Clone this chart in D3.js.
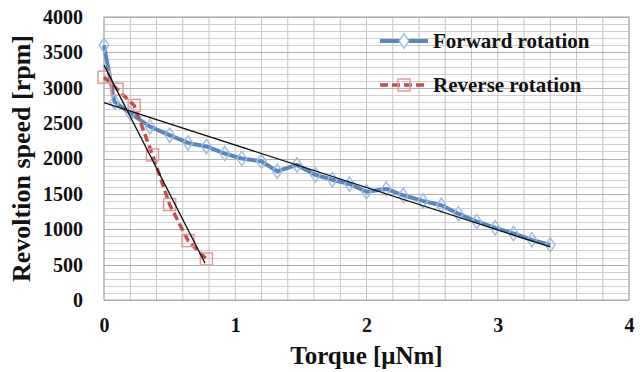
<!DOCTYPE html>
<html>
<head>
<meta charset="utf-8">
<script src="https://cdn.jsdelivr.net/npm/d3@7"></script>
<style>
  body { margin: 0; background: #fff; }
  text { font-family: "Liberation Serif", "Times New Roman", serif; font-weight: bold; fill: #111; }
</style>
</head>
<body>
<div class="chart"></div>
<script>
var svgWidth = 644;
var svgHeight = 372;

var margin = { top: 17, right: 15, bottom: 72, left: 104 };
var width = 629 - margin.left;
var height = 300 - margin.top;

// Data
var forwardTorque = [0, 0.08, 0.2, 0.35, 0.5, 0.64, 0.78, 0.92, 1.05, 1.2, 1.32, 1.47, 1.61, 1.74, 1.87, 2.0, 2.15, 2.28, 2.43, 2.57, 2.7, 2.84, 2.98, 3.12, 3.26, 3.4];
var forwardSpeed = [3600, 2800, 2640, 2450, 2330, 2220, 2170, 2070, 2000, 1960, 1820, 1910, 1770, 1700, 1640, 1530, 1570, 1480, 1400, 1340, 1220, 1110, 1020, 940, 850, 780];

var reverseTorque = [0, 0.1, 0.23, 0.37, 0.5, 0.64, 0.78];
var reverseSpeed = [3150, 2980, 2750, 2050, 1350, 840, 580];

// linear trend lines (end points)
var forwardTrendTorque = [0, 3.4];
var forwardTrendSpeed = [2790, 750];
var reverseTrendTorque = [0, 0.77];
var reverseTrendSpeed = [3320, 520];

var xTicks = [0, 1, 2, 3, 4];
var yTicks = [0, 500, 1000, 1500, 2000, 2500, 3000, 3500, 4000];
var seriesNames = ["Forward rotation", "Reverse rotation"];

var svg = d3.select(".chart")
  .append("svg")
  .attr("width", svgWidth)
  .attr("height", svgHeight);

svg.append("rect").attr("width", svgWidth).attr("height", svgHeight).attr("fill", "#fff");

var chartGroup = svg.append("g")
  .attr("transform", `translate(${margin.left}, ${margin.top})`);

var xScale = d3.scaleLinear().domain([0, 4]).range([0, width]);
var yScale = d3.scaleLinear().domain([0, 4000]).range([height, 0]);

// grid
chartGroup.append("g")
  .selectAll("line")
  .data(d3.range(0, 4.001, 0.2))
  .enter()
  .append("line")
  .attr("x1", d => xScale(d)).attr("x2", d => xScale(d))
  .attr("y1", 0).attr("y2", height)
  .attr("stroke", "#c4c4c4").attr("stroke-width", 1);

chartGroup.append("g")
  .selectAll("line")
  .data(d3.range(0, 4001, 100))
  .enter()
  .append("line")
  .attr("x1", 0).attr("x2", width)
  .attr("y1", d => Math.round(yScale(d)) + 0.5).attr("y2", d => Math.round(yScale(d)) + 0.5)
  .attr("stroke", d => d % 500 === 0 ? "#b0b0b0" : "#cfcfcf").attr("stroke-width", 1);

chartGroup.append("rect")
  .attr("width", width).attr("height", height)
  .attr("fill", "none").attr("stroke", "#a6a6a6");

// axes (labels only)
var bottomAxis = d3.axisBottom(xScale).tickValues(xTicks).tickFormat(d3.format("d")).tickSize(0).tickPadding(18);
var leftAxis = d3.axisLeft(yScale).tickValues(yTicks).tickFormat(d3.format("d")).tickSize(0).tickPadding(21);

chartGroup.append("g")
  .attr("transform", `translate(0, ${height})`)
  .call(bottomAxis)
  .call(g => g.select(".domain").remove())
  .selectAll("text")
  .style("font-size", "20px").style("font-family", "'Liberation Serif', serif").style("font-weight", "bold").style("fill", "#111");

chartGroup.append("g")
  .call(leftAxis)
  .call(g => g.select(".domain").remove())
  .selectAll("text")
  .style("font-size", "20px").style("font-family", "'Liberation Serif', serif").style("font-weight", "bold").style("fill", "#111");

var forward = forwardTorque.map((t, i) => ({ x: t, y: forwardSpeed[i] }));
var reverse = reverseTorque.map((t, i) => ({ x: t, y: reverseSpeed[i] }));

var line = d3.line().x(d => xScale(d.x)).y(d => yScale(d.y));

// forward series
chartGroup.append("path")
  .datum(forward)
  .attr("d", line)
  .attr("fill", "none")
  .attr("stroke", "#5b87bf")
  .attr("stroke-width", 4)
  .attr("stroke-linejoin", "round");

var diamond = d3.symbol().type(d3.symbolDiamond).size(60);
chartGroup.selectAll("path.fwd")
  .data(forward)
  .enter()
  .append("path")
  .attr("class", "fwd")
  .attr("d", diamond)
  .attr("transform", d => `translate(${xScale(d.x)}, ${yScale(d.y)}) scale(1.15,1)`)
  .attr("fill", "none")
  .attr("stroke", "#9dbde3")
  .attr("stroke-width", 1.3);

// reverse series
chartGroup.append("path")
  .datum(reverse)
  .attr("d", line)
  .attr("fill", "none")
  .attr("stroke", "#c0504d")
  .attr("stroke-width", 3.5)
  .attr("stroke-dasharray", "8,4");

chartGroup.selectAll("rect.rev")
  .data(reverse)
  .enter()
  .append("rect")
  .attr("class", "rev")
  .attr("x", d => xScale(d.x) - 6)
  .attr("y", d => yScale(d.y) - 6)
  .attr("width", 12).attr("height", 12)
  .attr("fill", "none")
  .attr("stroke", "#e39a98")
  .attr("stroke-width", 1.5);

// trend lines
[[forwardTrendTorque, forwardTrendSpeed], [reverseTrendTorque, reverseTrendSpeed]].forEach(function(tr) {
  chartGroup.append("path")
    .datum(tr[0].map((t, i) => ({ x: t, y: tr[1][i] })))
    .attr("d", line)
    .attr("fill", "none")
    .attr("stroke", "#111")
    .attr("stroke-width", 1.3);
});

// legend
var legend = svg.append("g").attr("transform", "translate(380, 41)");
legend.append("line").attr("x1", 0).attr("x2", 48).attr("y1", 0).attr("y2", 0)
  .attr("stroke", "#5b87bf").attr("stroke-width", 4);
legend.append("path").attr("d", diamond).attr("transform", "translate(24,0) scale(1.15,1)")
  .attr("fill", "#fff").attr("stroke", "#9dbde3").attr("stroke-width", 1.3);
legend.append("text").attr("x", 53).attr("y", 7).style("font-size", "21px").text(seriesNames[0]);

legend.append("line").attr("x1", 0).attr("x2", 48).attr("y1", 44).attr("y2", 44)
  .attr("stroke", "#c0504d").attr("stroke-width", 3.5).attr("stroke-dasharray", "8,4");
legend.append("rect").attr("x", 18).attr("y", 38).attr("width", 12).attr("height", 12)
  .attr("fill", "none").attr("stroke", "#e39a98").attr("stroke-width", 1.5);
legend.append("text").attr("x", 53).attr("y", 51).style("font-size", "21px").text(seriesNames[1]);

// axis titles
svg.append("text")
  .attr("x", margin.left + width / 2)
  .attr("y", 364)
  .attr("text-anchor", "middle")
  .style("font-size", "25px")
  .text("Torque [\u03bcNm]");

svg.append("text")
  .attr("transform", `translate(30, ${margin.top + height / 2}) rotate(-90)`)
  .attr("text-anchor", "middle")
  .style("font-size", "26px")
  .text("Revoltion speed [rpm]");
</script>
</body>
</html>
